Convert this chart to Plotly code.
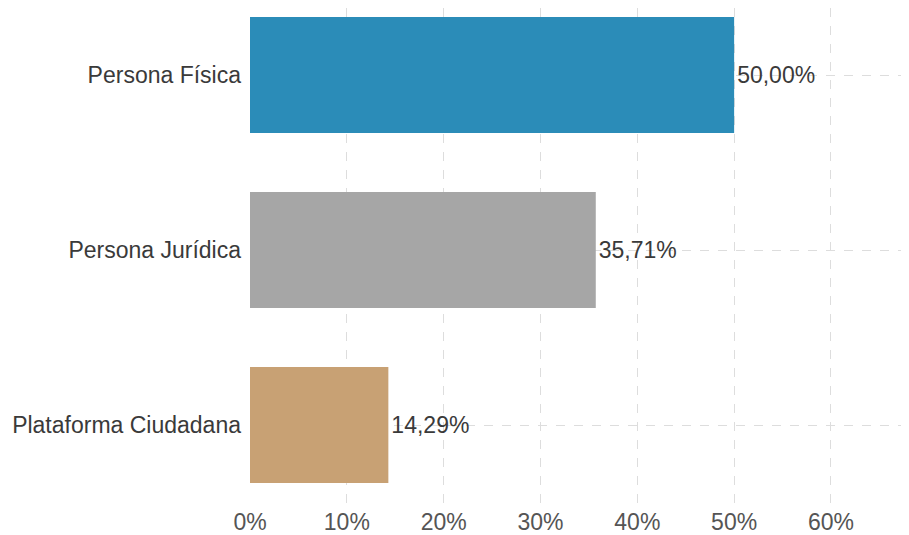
import plotly.graph_objects as go

categories = ["Persona Física", "Persona Jurídica", "Plataforma Ciudadana"]
values = [0.5000, 0.3571, 0.1429]
colors = ["#2B8CB8", "#A6A6A6", "#C8A174"]
x_ticks = [0, 0.1, 0.2, 0.3, 0.4, 0.5, 0.6]

fig = go.Figure(go.Bar(
    x=values, y=categories, orientation="h",
    marker=dict(color=colors, line=dict(width=0)),
    width=0.663,
    texttemplate="%{x:.2%}", textposition="outside",
    textfont=dict(size=23, color="#3A3A3A"),
    cliponaxis=False,
))

fig.update_layout(
    width=901, height=527,
    margin=dict(l=242, r=0, t=0, b=31),
    plot_bgcolor="white", paper_bgcolor="white",
    separators=",.",
    font=dict(family="Liberation Sans, Arial, sans-serif"),
    showlegend=False,
)
fig.update_xaxes(
    range=[0, 0.6806], tickvals=x_ticks, tickformat=".0%",
    showgrid=True, gridcolor="#DDDDDD", griddash="dash", gridwidth=1,
    zeroline=False, showline=False,
    tickfont=dict(size=23, color="#555555"),
    ticklabelstandoff=2,
)
fig.update_yaxes(
    range=[2.4514, -0.3829],
    showgrid=True, gridcolor="#DDDDDD", griddash="dash", gridwidth=1,
    zeroline=False, showline=False,
    tickfont=dict(size=23, color="#3A3A3A"),
    ticklabelstandoff=8,
)

fig.write_html("out.html")
